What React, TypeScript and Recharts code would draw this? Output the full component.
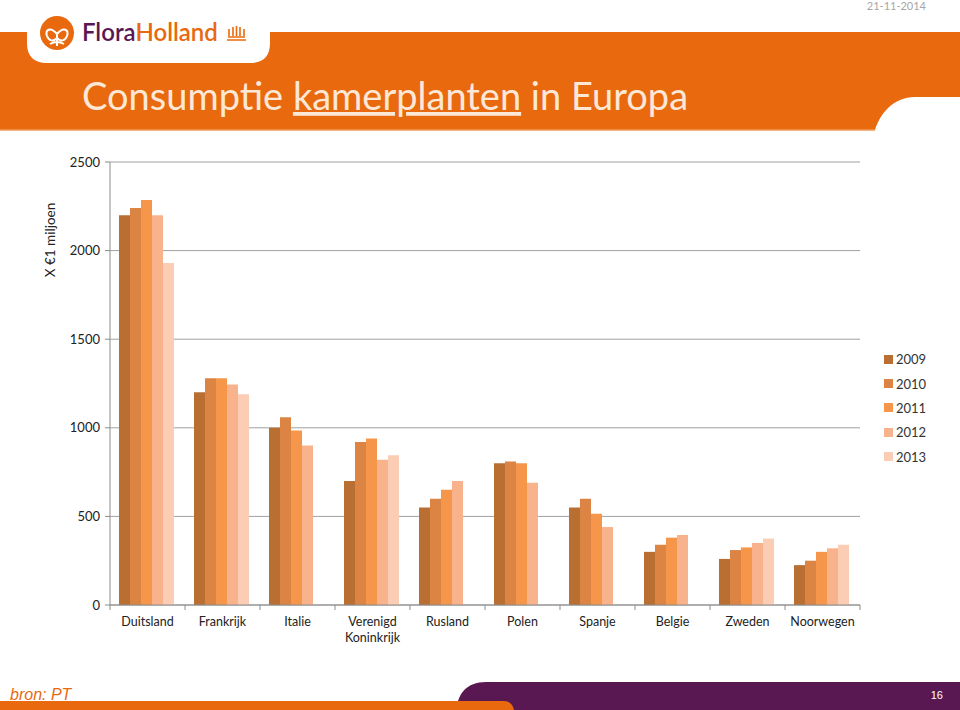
import React from "react";
import { BarChart, Bar, XAxis, YAxis, CartesianGrid, Legend, Label } from "recharts";

const categories = [
  "Duitsland",
  "Frankrijk",
  "Italie",
  "Verenigd\nKoninkrijk",
  "Rusland",
  "Polen",
  "Spanje",
  "Belgie",
  "Zweden",
  "Noorwegen",
];
const v2009 = [2200, 1200, 1000, 700, 550, 800, 550, 300, 260, 225];
const v2010 = [2240, 1280, 1060, 920, 600, 810, 600, 340, 310, 250];
const v2011 = [2285, 1280, 985, 940, 650, 800, 515, 380, 325, 300];
const v2012 = [2200, 1245, 900, 820, 700, 690, 440, 395, 350, 320];
const v2013 = [1930, 1190, null, 845, null, null, null, null, 375, 340];
const yTicks = [0, 500, 1000, 1500, 2000, 2500];

const seriesKeys = ["2009", "2010", "2011", "2012", "2013"];
const seriesColors = ["#B96F32", "#DC8443", "#F5964A", "#F8B38C", "#FBCDB4"];

const data = categories.map((c, i) => ({
  name: c,
  "2009": v2009[i],
  "2010": v2010[i],
  "2011": v2011[i],
  "2012": v2012[i],
  "2013": v2013[i],
}));

const W = 960;
const H = 710;
const M = { top: 162, right: 100, left: 0, bottom: 65 };
const Y_AXIS_W = 110;
const X_AXIS_H = 40;
const BAND = (W - M.left - M.right - Y_AXIS_W) / categories.length;

const FONT = "Lato, 'Open Sans', sans-serif";
const ORANGE = "#E8690E";
const PURPLE = "#5A1853";
const AXIS = "#8C8C8C";

const XTick = (props: any) => {
  const { x, y, payload, index } = props;
  const lines = String(payload.value).split("\n");
  const half = BAND / 2;
  return (
    <g>
      <line x1={x - half} x2={x - half} y1={y} y2={y + 5} stroke={AXIS} />
      {index === categories.length - 1 && (
        <line x1={x + half} x2={x + half} y1={y} y2={y + 5} stroke={AXIS} />
      )}
      <text x={x} y={y + 21} textAnchor="middle" fontSize={12.5} fill="#222" fontFamily={FONT}>
        {lines.map((l, i) => (
          <tspan key={i} x={x} dy={i === 0 ? 0 : 16}>
            {l}
          </tspan>
        ))}
      </text>
    </g>
  );
};

const LegendContent = () => (
  <div style={{ fontFamily: FONT, fontSize: 13, color: "#333" }}>
    {seriesKeys.map((k, i) => (
      <div key={k} style={{ display: "flex", alignItems: "center", height: 24.4 }}>
        <span
          style={{
            display: "inline-block",
            width: 9,
            height: 9,
            background: seriesColors[i],
            marginRight: 3,
          }}
        />
        <span>{k}</span>
      </div>
    ))}
  </div>
);

const YLabel = (props: any) => {
  const vb = props.viewBox || { x: 0, y: M.top };
  const cx = vb.x + 50;
  const cy = M.top + 78;
  return (
    <text
      x={cx}
      y={cy}
      transform={`rotate(-90 ${cx} ${cy})`}
      textAnchor="middle"
      dominantBaseline="central"
      fontSize={13.5}
      fill="#222"
      fontFamily={FONT}
    >
      X €1 miljoen
    </text>
  );
};

const Background = () => (
  <svg width={W} height={H} style={{ position: "absolute", left: 0, top: 0 }}>
    <rect x={0} y={0} width={W} height={H} fill="#fff" />
    {/* top orange band */}
    <path d="M0,32 H960 V97 H915 C893,97 880,114 875,130 H0 Z" fill={ORANGE} />
    <line x1={0} x2={875} y1={130} y2={130} stroke="#F39A58" strokeWidth={1.5} />
    {/* logo tab */}
    <path d="M27,0 H270 V43 Q270,63 250,63 H47 Q27,63 27,43 Z" fill="#fff" />
    <circle cx={57} cy={33} r={17} fill={ORANGE} />
    <path
      d="M57,46 V34 M57,34 C50,26 45,30 47,36 C49,41 53,42 57,38 C61,42 65,41 67,36 C69,30 64,26 57,34 M50,44 Q57,40 64,44"
      stroke="#fff"
      strokeWidth={2}
      fill="none"
    />
    <text x={82} y={41} fontSize={24} fontFamily={FONT} fontWeight={600}>
      <tspan fill={PURPLE}>Flora</tspan>
      <tspan fill={ORANGE}>Holland</tspan>
    </text>
    <g stroke={ORANGE} strokeWidth={1.6} fill="none">
      <path d="M227,40 H246 M228,37 H245" />
      <path d="M229,36 V29 M233,36 V27 M236.5,36 V26 M240,36 V27 M244,36 V29" />
    </g>
    <text x={82} y={110} fontSize={38} fontFamily={FONT} fill="#FDE8D8">
      Consumptie <tspan textDecoration="underline">kamerplanten</tspan> in Europa
    </text>
    <text x={926} y={10} textAnchor="end" fontSize={11} fontFamily={FONT} fill="#A6A6A6">
      21-11-2014
    </text>
    {/* footer */}
    <path d="M456,710 C458,694 466,682 486,682 H960 V710 Z" fill={PURPLE} />
    <path d="M0,701 H504 Q512,701 514,710 H0 Z" fill={ORANGE} />
    <text x={10} y={700} fontSize={16} fontStyle="italic" fontFamily="'Liberation Sans', sans-serif" fill={ORANGE}>
      bron: PT
    </text>
    <text x={943} y={699} textAnchor="end" fontSize={11} fontFamily="'Liberation Sans', sans-serif" fill="#fff">
      16
    </text>
  </svg>
);

export default function App() {
  return (
    <div style={{ position: "absolute", left: 0, top: 0, width: W, height: H, overflow: "hidden" }}>
      <Background />
      <div style={{ position: "absolute", left: 0, top: 0 }}>
        <BarChart
          width={W}
          height={H}
          data={data}
          margin={M}
          barCategoryGap="12%"
          barGap={0}
        >
          <CartesianGrid vertical={false} stroke="#A0A0A0" />
          <XAxis
            dataKey="name"
            height={X_AXIS_H}
            interval={0}
            tickLine={false}
            tickSize={0}
            tickMargin={0}
            tick={<XTick />}
            stroke={AXIS}
          />
          <YAxis
            width={Y_AXIS_W}
            domain={[0, 2500]}
            ticks={yTicks}
            interval={0}
            tickSize={5}
            tickMargin={5}
            stroke={AXIS}
            tick={{ fontSize: 13, fill: "#222", fontFamily: FONT }}
          >
            <Label content={<YLabel />} />
          </YAxis>
          <Legend
            layout="vertical"
            align="center"
            verticalAlign="middle"
            content={<LegendContent />}
            wrapperStyle={{ left: 884, top: 347, width: 60 }}
          />
          {seriesKeys.map((k, i) => (
            <Bar key={k} dataKey={k} fill={seriesColors[i]} isAnimationActive={false} />
          ))}
        </BarChart>
      </div>
    </div>
  );
}
